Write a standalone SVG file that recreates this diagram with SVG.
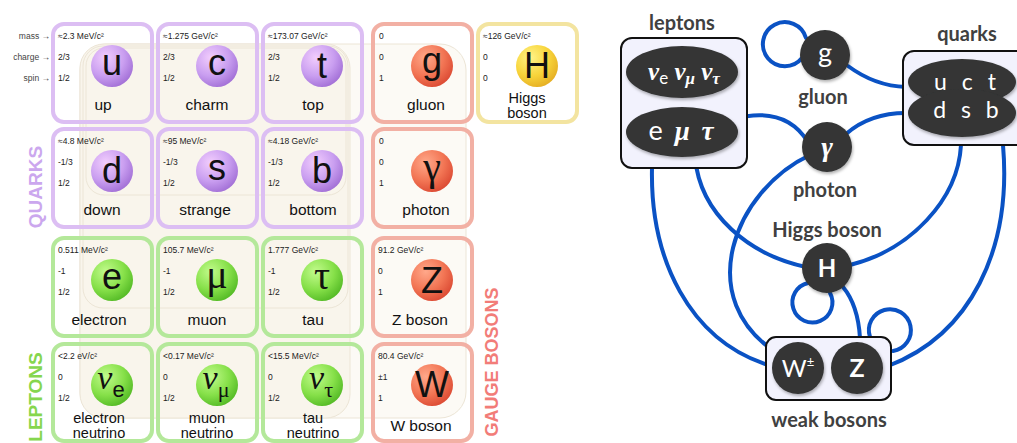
<svg xmlns="http://www.w3.org/2000/svg" width="1017" height="443" viewBox="0 0 1017 443">
<defs>
<style>
.card{fill:none;stroke-width:4}
.cq{stroke:#dcbef3}
.cl{stroke:#b4e89a}
.cg{stroke:#f2b0a4}
.ch{stroke:#f3e4a0}
.v{font-family:"Liberation Sans",Arial,sans-serif;font-size:8.5px;fill:#222}
.nm{font-family:"Liberation Sans",Arial,sans-serif;font-size:15.5px;fill:#111;text-anchor:middle}
.nm2{font-family:"Liberation Sans",Arial,sans-serif;font-size:14.5px;fill:#111;text-anchor:middle}
.sym{font-family:"Liberation Sans",Arial,sans-serif;font-size:36px;fill:#111;text-anchor:middle}
.ssym{font-family:"Liberation Serif","Times New Roman",serif;font-size:40px;fill:#111;text-anchor:middle}
.ax{font-family:"Liberation Sans",Arial,sans-serif;font-size:8.5px;fill:#444;text-anchor:end}
.grp{font-family:"Liberation Sans",Arial,sans-serif;font-weight:bold;text-anchor:middle}
.conn{fill:none;stroke:#0a52c4;stroke-width:4;stroke-linecap:round}
.node{fill:#343535}
.box{fill:#f2f2fd;stroke:#111;stroke-width:2}
.lbl{font-family:Lato,"Liberation Sans",sans-serif;font-weight:bold;font-size:20px;fill:#404040;text-anchor:middle}
.wt{font-family:Lato,"Liberation Sans",sans-serif;fill:#fff;text-anchor:middle}
.wi{font-family:"Liberation Serif","Times New Roman",serif;font-style:italic;font-weight:bold;fill:#fff}
.bg{stroke:#ece5d6;stroke-width:1}
</style>
<radialGradient id="gq" cx="0.35" cy="0.3" r="0.8"><stop offset="0" stop-color="#f2cdfd"/><stop offset="0.55" stop-color="#c99ef0"/><stop offset="1" stop-color="#9c68d2"/></radialGradient>
<radialGradient id="gl" cx="0.35" cy="0.3" r="0.8"><stop offset="0" stop-color="#c2fb8c"/><stop offset="0.55" stop-color="#86e049"/><stop offset="1" stop-color="#4cb420"/></radialGradient>
<radialGradient id="gg" cx="0.35" cy="0.3" r="0.8"><stop offset="0" stop-color="#ffa88a"/><stop offset="0.55" stop-color="#f27554"/><stop offset="1" stop-color="#d8432e"/></radialGradient>
<radialGradient id="gh" cx="0.35" cy="0.3" r="0.8"><stop offset="0" stop-color="#fff488"/><stop offset="0.55" stop-color="#f8d43a"/><stop offset="1" stop-color="#e2a820"/></radialGradient>
<filter id="sh" x="-20%" y="-20%" width="140%" height="150%"><feDropShadow dx="1" dy="2" stdDeviation="1.5" flood-opacity="0.3"/></filter>
</defs>
<rect width="1017" height="443" fill="#fff"/>

<g id="background">
<rect class="bg" x="80" y="44" width="386" height="374" rx="26" fill="#fcfaf5"/>
<rect class="bg" x="80" y="44" width="270" height="374" rx="24" fill="#f9f5ec"/>
<rect class="bg" x="83" y="46" width="265" height="262" rx="20" fill="none"/>
<rect class="bg" x="86" y="48" width="260" height="147" rx="18" fill="none"/>
</g>

<g id="axis-labels">
<text class="ax" x="50" y="39">mass →</text>
<text class="ax" x="50" y="60">charge →</text>
<text class="ax" x="50" y="81">spin →</text>
</g>

<g id="group-labels">
<text class="grp" transform="translate(42,187) rotate(-90)" font-size="19" fill="#cba7ee">QUARKS</text>
<text class="grp" transform="translate(42,397) rotate(-90)" font-size="19" fill="#86d64e">LEPTONS</text>
<text class="grp" transform="translate(498,362) rotate(-90)" font-size="18" fill="#f27c78">GAUGE BOSONS</text>
</g>

<g id="up" transform="translate(53,24)">
<rect class="card cq" width="99" height="98" rx="11"/>
<text class="v" x="5" y="15">≈2.3 MeV/c²</text><text class="v" x="5" y="36">2/3</text><text class="v" x="5" y="57">1/2</text>
<circle cx="59" cy="42" r="21" fill="url(#gq)"/><text class="sym" x="59" y="51">u</text>
<text class="nm" x="50" y="86">up</text>
</g>
<g id="charm" transform="translate(158,24)">
<rect class="card cq" width="99" height="98" rx="11"/>
<text class="v" x="5" y="15">≈1.275 GeV/c²</text><text class="v" x="5" y="36">2/3</text><text class="v" x="5" y="57">1/2</text>
<circle cx="59" cy="42" r="21" fill="url(#gq)"/><text class="sym" x="59" y="51">c</text>
<text class="nm" x="49" y="86">charm</text>
</g>
<g id="top" transform="translate(263,24)">
<rect class="card cq" width="99" height="98" rx="11"/>
<text class="v" x="5" y="15">≈173.07 GeV/c²</text><text class="v" x="5" y="36">2/3</text><text class="v" x="5" y="57">1/2</text>
<circle cx="59" cy="42" r="21" fill="url(#gq)"/><text class="sym" x="59" y="54">t</text>
<text class="nm" x="50" y="86">top</text>
</g>
<g id="gluon-card" transform="translate(373,24)">
<rect class="card cg" width="99" height="98" rx="11"/>
<text class="v" x="6" y="15">0</text><text class="v" x="6" y="36">0</text><text class="v" x="6" y="57">1</text>
<circle cx="59" cy="42" r="21" fill="url(#gg)"/><text class="sym" x="59" y="49">g</text>
<text class="nm" x="53" y="86">gluon</text>
</g>
<g id="higgs-card" transform="translate(478,24)">
<rect class="card ch" width="99" height="98" rx="11"/>
<text class="v" x="5" y="15">≈126 GeV/c²</text><text class="v" x="5" y="36">0</text><text class="v" x="5" y="57">0</text>
<circle cx="59" cy="42" r="21" fill="url(#gh)"/><text class="sym" x="59" y="54">H</text>
<text class="nm2" x="49" y="79">Higgs</text><text class="nm2" x="49" y="93.5">boson</text>
</g>

<g id="down" transform="translate(53,129)">
<rect class="card cq" width="99" height="98" rx="11"/>
<text class="v" x="5" y="15">≈4.8 MeV/c²</text><text class="v" x="5" y="36">-1/3</text><text class="v" x="5" y="57">1/2</text>
<circle cx="59" cy="42" r="21" fill="url(#gq)"/><text class="sym" x="59" y="54">d</text>
<text class="nm" x="49" y="86">down</text>
</g>
<g id="strange" transform="translate(158,129)">
<rect class="card cq" width="99" height="98" rx="11"/>
<text class="v" x="5" y="15">≈95 MeV/c²</text><text class="v" x="5" y="36">-1/3</text><text class="v" x="5" y="57">1/2</text>
<circle cx="59" cy="42" r="21" fill="url(#gq)"/><text class="sym" x="59" y="51">s</text>
<text class="nm" x="47" y="86">strange</text>
</g>
<g id="bottom" transform="translate(263,129)">
<rect class="card cq" width="99" height="98" rx="11"/>
<text class="v" x="5" y="15">≈4.18 GeV/c²</text><text class="v" x="5" y="36">-1/3</text><text class="v" x="5" y="57">1/2</text>
<circle cx="59" cy="42" r="21" fill="url(#gq)"/><text class="sym" x="59" y="54">b</text>
<text class="nm" x="50" y="86">bottom</text>
</g>
<g id="photon-card" transform="translate(373,129)">
<rect class="card cg" width="99" height="98" rx="11"/>
<text class="v" x="6" y="15">0</text><text class="v" x="6" y="36">0</text><text class="v" x="6" y="57">1</text>
<circle cx="59" cy="42" r="21" fill="url(#gg)"/><text class="ssym" x="59" y="51">γ</text>
<text class="nm" x="53" y="86">photon</text>
</g>

<g id="electron" transform="translate(53,238)">
<rect class="card cl" width="99" height="98" rx="11"/>
<text class="v" x="5" y="15">0.511 MeV/c²</text><text class="v" x="5" y="36">-1</text><text class="v" x="5" y="57">1/2</text>
<circle cx="59" cy="42" r="21" fill="url(#gl)"/><text class="sym" x="59" y="51">e</text>
<text class="nm" x="46" y="87">electron</text>
</g>
<g id="muon" transform="translate(158,238)">
<rect class="card cl" width="99" height="98" rx="11"/>
<text class="v" x="5" y="15">105.7 MeV/c²</text><text class="v" x="5" y="36">-1</text><text class="v" x="5" y="57">1/2</text>
<circle cx="59" cy="42" r="21" fill="url(#gl)"/><text class="ssym" x="59" y="50">μ</text>
<text class="nm" x="49" y="87">muon</text>
</g>
<g id="tau" transform="translate(263,238)">
<rect class="card cl" width="99" height="98" rx="11"/>
<text class="v" x="5" y="15">1.777 GeV/c²</text><text class="v" x="5" y="36">-1</text><text class="v" x="5" y="57">1/2</text>
<circle cx="59" cy="42" r="21" fill="url(#gl)"/><text class="ssym" x="59" y="51">τ</text>
<text class="nm" x="50" y="87">tau</text>
</g>
<g id="z-card" transform="translate(373,238)">
<rect class="card cg" width="99" height="98" rx="11"/>
<text class="v" x="5" y="15">91.2 GeV/c²</text><text class="v" x="5" y="36">0</text><text class="v" x="5" y="57">1</text>
<circle cx="59" cy="42" r="21" fill="url(#gg)"/><text class="sym" x="59" y="55">Z</text>
<text class="nm" x="47" y="87">Z boson</text>
</g>

<g id="electron-neutrino" transform="translate(53,344)">
<rect class="card cl" width="99" height="97" rx="11"/>
<text class="v" x="5" y="15">&lt;2.2 eV/c²</text><text class="v" x="5" y="36">0</text><text class="v" x="5" y="57">1/2</text>
<circle cx="59" cy="41" r="21" fill="url(#gl)"/>
<text class="sym" x="58" y="45"><tspan font-family="Liberation Serif,serif" font-style="italic" font-size="34">ν</tspan><tspan font-size="22" dy="8">e</tspan></text>
<text class="nm2" x="46" y="79">electron</text><text class="nm2" x="46" y="93.5">neutrino</text>
</g>
<g id="muon-neutrino" transform="translate(158,344)">
<rect class="card cl" width="99" height="97" rx="11"/>
<text class="v" x="5" y="15">&lt;0.17 MeV/c²</text><text class="v" x="5" y="36">0</text><text class="v" x="5" y="57">1/2</text>
<circle cx="59" cy="41" r="21" fill="url(#gl)"/>
<text class="sym" x="58" y="45"><tspan font-family="Liberation Serif,serif" font-style="italic" font-size="34">ν</tspan><tspan font-family="Liberation Serif,serif" font-size="22" dy="8">μ</tspan></text>
<text class="nm2" x="49" y="79">muon</text><text class="nm2" x="49" y="93.5">neutrino</text>
</g>
<g id="tau-neutrino" transform="translate(263,344)">
<rect class="card cl" width="99" height="97" rx="11"/>
<text class="v" x="5" y="15">&lt;15.5 MeV/c²</text><text class="v" x="5" y="36">0</text><text class="v" x="5" y="57">1/2</text>
<circle cx="59" cy="41" r="21" fill="url(#gl)"/>
<text class="sym" x="58" y="45"><tspan font-family="Liberation Serif,serif" font-style="italic" font-size="34">ν</tspan><tspan font-family="Liberation Serif,serif" font-size="22" dy="8">τ</tspan></text>
<text class="nm2" x="50" y="79">tau</text><text class="nm2" x="50" y="93.5">neutrino</text>
</g>
<g id="w-card" transform="translate(373,344)">
<rect class="card cg" width="99" height="97" rx="11"/>
<text class="v" x="5" y="15">80.4 GeV/c²</text><text class="v" x="5" y="36">±1</text><text class="v" x="5" y="57">1</text>
<circle cx="59" cy="41" r="21" fill="url(#gg)"/><text class="sym" x="59" y="53">W</text>
<text class="nm" x="48" y="87">W boson</text>
</g>

<g id="connectors">
<path class="conn" d="M806 38 A22 22 0 1 0 802 58"/>
<path class="conn" d="M848 66 Q875 86 906 87"/>
<path class="conn" d="M846 134 Q870 113 906 113"/>
<path class="conn" d="M733 119 Q785 105 808 142"/>
<path class="conn" d="M695 157 C700 215 750 255 806 267"/>
<path class="conn" d="M810 155 C735 190 690 300 780 355"/>
<path class="conn" d="M652 168 C650 260 690 340 768 365"/>
<path class="conn" d="M961 145 C958 200 910 250 850 265"/>
<path class="conn" d="M1003 145 C1012 250 970 335 888 366"/>
<path class="conn" d="M808 283 A20 20 0 1 0 830 293"/>
<path class="conn" d="M843 287 Q858 305 860 338"/>
<path class="conn" d="M870 337 A21 21 0 1 1 893 351"/>
</g>

<g id="leptons">
<text class="lbl" x="682" y="30">leptons</text>
<rect class="box" x="621" y="38" width="126" height="130" rx="11"/>
<ellipse class="node" cx="682" cy="72" rx="56" ry="26" filter="url(#sh)"/>
<ellipse class="node" cx="682" cy="132" rx="56" ry="25" filter="url(#sh)"/>
<text class="wi" x="684" y="80" text-anchor="middle" font-size="25">ν<tspan font-family="Lato,sans-serif" font-style="normal" font-weight="normal" font-size="17" dy="4">e</tspan><tspan dy="-4"> ν</tspan><tspan font-size="17" dy="4">μ</tspan><tspan dy="-4"> ν</tspan><tspan font-size="17" dy="4">τ</tspan></text>
<text class="wi" x="681" y="140" text-anchor="middle" font-size="27" word-spacing="5"><tspan font-family="Lato,sans-serif" font-style="normal" font-weight="normal">e</tspan> μ τ</text>
</g>

<g id="gluon">
<circle class="node" cx="825" cy="55" r="25" filter="url(#sh)"/>
<text class="wt" x="825" y="62" font-size="27">g</text>
<text class="lbl" x="823" y="104">gluon</text>
</g>

<g id="quarks">
<text class="lbl" x="967" y="41">quarks</text>
<rect class="box" x="903" y="51" width="125" height="94" rx="11"/>
<ellipse class="node" cx="962" cy="82" rx="54" ry="23" filter="url(#sh)"/>
<ellipse class="node" cx="962" cy="113" rx="54" ry="24" filter="url(#sh)"/>
<text class="wt" x="965" y="90" font-size="23" word-spacing="9">u c t</text>
<text class="wt" x="966" y="118" font-size="23" word-spacing="9">d s b</text>
</g>

<g id="photon">
<circle class="node" cx="827" cy="147" r="25" filter="url(#sh)"/>
<text class="wi" x="827" y="156" text-anchor="middle" font-size="28" font-weight="normal">γ</text>
<text class="lbl" x="825" y="197">photon</text>
</g>

<g id="higgs">
<text class="lbl" x="827" y="237">Higgs boson</text>
<circle class="node" cx="827" cy="268" r="25" filter="url(#sh)"/>
<text class="wt" x="827" y="277" font-size="24" font-weight="bold">H</text>
</g>

<g id="weak-bosons">
<rect class="box" x="766" y="337" width="125" height="63" rx="10"/>
<circle class="node" cx="798" cy="368" r="26" filter="url(#sh)"/>
<circle class="node" cx="857" cy="368" r="26" filter="url(#sh)"/>
<text class="wt" x="798" y="377" font-size="24">W<tspan font-size="13" dy="-10">±</tspan></text>
<text class="wt" x="857" y="377" font-size="25" font-weight="bold">Z</text>
<text class="lbl" x="829" y="427">weak bosons</text>
</g>
</svg>
